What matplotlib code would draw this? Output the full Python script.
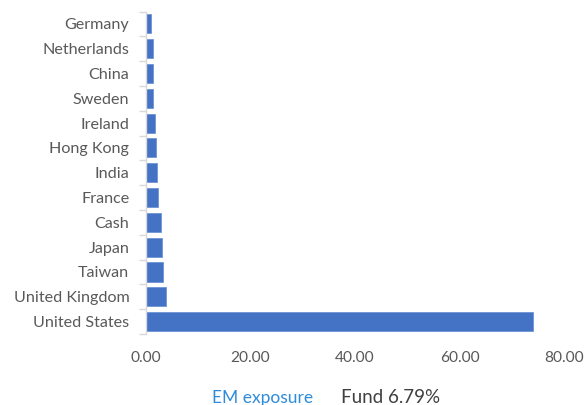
import numpy as np
import matplotlib.pyplot as plt

# country exposure, top to bottom as shown
countries = ["Germany", "Netherlands", "China", "Sweden", "Ireland", "Hong Kong",
             "India", "France", "Cash", "Japan", "Taiwan", "United Kingdom", "United States"]
weights = [1.0, 1.25, 1.3, 1.3, 1.8, 1.9, 2.1, 2.3, 2.9, 3.05, 3.3, 3.75, 74.0]
xticks = [0, 20, 40, 60, 80]

plt.rcParams['font.family'] = ['Lato', 'DejaVu Sans']

fig = plt.figure(figsize=(5.86, 4.05), dpi=100)
ax = fig.add_axes([146 / 586, 1 - 334 / 405, (564 - 146) / 586, (334 - 11.5) / 405])

y = np.arange(len(countries))[::-1]
ax.barh(y, weights, height=0.77, color="#4472C4", edgecolor="#6F94D6", linewidth=0.6)

ax.set_xlim(0, 80)
ax.set_ylim(-0.5, len(countries) - 0.5)
ax.set_xticks(xticks)
ax.set_xticklabels(["%.2f" % v for v in xticks])
ax.set_yticks(y)
ax.set_yticklabels(countries)
ax.set_yticks(np.arange(-0.5, len(countries)), minor=True)

for s in ["top", "right", "bottom"]:
    ax.spines[s].set_visible(False)
ax.spines["left"].set_color("#D9D9D9")
ax.spines["left"].set_linewidth(1.0)

ax.tick_params(axis="y", which="major", length=0, pad=12, labelsize=11.6, labelcolor="#595959")
ax.tick_params(axis="y", which="minor", length=5, color="#D9D9D9", width=1.0)
ax.tick_params(axis="x", length=0, pad=12, labelsize=11.2, labelcolor="#595959")

fig.text(263 / 586, 1 - 403 / 405, "EM exposure", color="#2F8BDB", fontsize=12.5,
         ha="center", va="baseline")
fig.text(391 / 586, 1 - 403 / 405, "Fund 6.79%", color="#404040", fontsize=13.5,
         ha="center", va="baseline")

fig.savefig("out.png", dpi=100)
